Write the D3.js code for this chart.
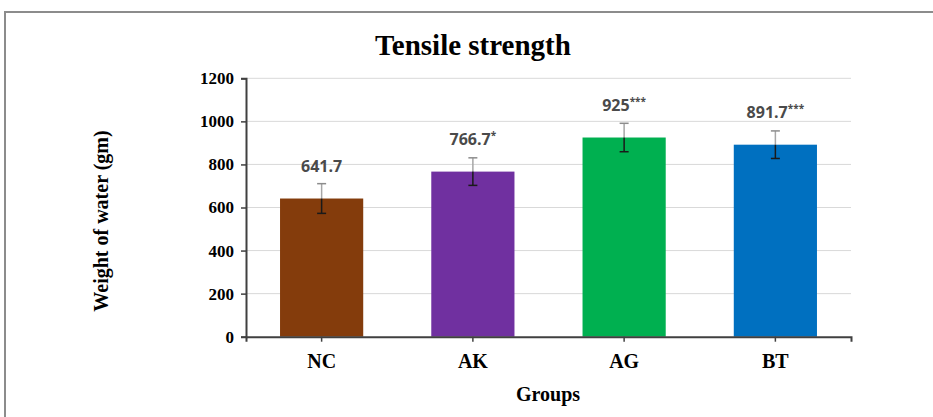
<!DOCTYPE html>
<html>
<head>
<meta charset="utf-8">
<script src="https://cdn.jsdelivr.net/npm/d3@7"></script>
<style>
  body { margin: 0; background: #fff; }
  svg { display: block; }
</style>
</head>
<body>
<div id="chart"></div>
<script>
// data
const groups = ["NC", "AK", "AG", "BT"]
const values = [641.7, 766.7, 925, 891.7]
const errors = [69, 64, 66, 64]
const marks = ["", "*", "***", "***"]
const colors = ["#843C0C", "#7030A0", "#00B050", "#0070C0"]
const yTicks = [0, 200, 400, 600, 800, 1000, 1200]

const width = 933, height = 417
const margin = {top: 78, right: 82, bottom: 80, left: 246}

const svg = d3.select("#chart").append("svg")
  .attr("width", width)
  .attr("height", height)

// chart area frame (only top and left show)
svg.append("rect")
  .attr("x", 5).attr("y", 12)
  .attr("width", 1000).attr("height", 1000)
  .attr("fill", "none")
  .attr("stroke", "#8c8c8c")
  .attr("stroke-width", 2)

const x = d3.scaleBand()
  .domain(groups)
  .range([margin.left, width - margin.right])
  .paddingInner(0.45)
  .paddingOuter(0.225)

const y = d3.scaleLinear()
  .domain([0, 1200])
  .range([336.7, 78.3])

// gridlines
svg.append("g")
  .selectAll("line")
  .data(yTicks.filter(d => d > 0))
  .join("line")
  .attr("x1", margin.left).attr("x2", width - margin.right)
  .attr("y1", d => y(d)).attr("y2", d => y(d))
  .attr("stroke", "#d9d9d9")
  .attr("stroke-width", 1)

// bars
svg.append("g")
  .selectAll("rect")
  .data(groups)
  .join("rect")
  .attr("x", d => x(d))
  .attr("width", x.bandwidth())
  .attr("y", (d, i) => y(values[i]))
  .attr("height", (d, i) => y(0) - y(values[i]))
  .attr("fill", (d, i) => colors[i])

// error bars: light part above the bar, dark part on the bar
const eb = svg.append("g")
groups.forEach((g, i) => {
  const cx = x(g) + x.bandwidth() / 2
  const top = y(values[i] + errors[i]), mid = y(values[i]), bot = y(values[i] - errors[i])
  eb.append("line").attr("x1", cx).attr("x2", cx).attr("y1", top).attr("y2", mid)
    .attr("stroke", "#a6a6a6").attr("stroke-width", 1.5)
  eb.append("line").attr("x1", cx - 4.5).attr("x2", cx + 4.5).attr("y1", top).attr("y2", top)
    .attr("stroke", "#8c8c8c").attr("stroke-width", 1.5)
  eb.append("line").attr("x1", cx).attr("x2", cx).attr("y1", mid).attr("y2", bot)
    .attr("stroke", "#1a1a1a").attr("stroke-width", 1.5)
  eb.append("line").attr("x1", cx - 4.5).attr("x2", cx + 4.5).attr("y1", bot).attr("y2", bot)
    .attr("stroke", "#1a1a1a").attr("stroke-width", 1.5)
})

// value labels
const lab = svg.append("g")
  .selectAll("text")
  .data(groups)
  .join("text")
  .attr("x", d => x(d) + x.bandwidth() / 2)
  .attr("y", (d, i) => y(values[i]) - 27)
  .attr("text-anchor", "middle")
  .style("font-family", "'Open Sans', 'Noto Sans', sans-serif")
  .style("font-weight", "bold")
  .style("font-size", "16px")
  .style("fill", "#4a4a4a")
lab.append("tspan").text((d, i) => values[i])
lab.append("tspan")
  .attr("dy", -6)
  .style("font-size", "10px")
  .text((d, i) => marks[i])

// y axis
const yAxis = svg.append("g")
  .attr("transform", "translate(" + margin.left + ",0)")
  .call(d3.axisLeft(y).tickValues(yTicks).tickFormat(d3.format("d")).tickSize(5).tickPadding(7))
yAxis.select(".domain").attr("stroke", "#404040").attr("stroke-width", 2)
yAxis.selectAll(".tick line").attr("stroke", "#404040").attr("stroke-width", 1.5)
yAxis.selectAll("text")
  .style("font-family", "'Liberation Serif', 'Times New Roman', serif")
  .style("font-weight", "bold")
  .style("font-size", "17px")
  .style("fill", "#000")

// x axis
const xAxis = svg.append("g")
  .attr("transform", "translate(0," + y(0) + ")")
  .call(d3.axisBottom(x).tickSize(5).tickSizeOuter(5).tickPadding(12))
xAxis.select(".domain").attr("stroke", "#404040").attr("stroke-width", 2)
xAxis.selectAll(".tick line").attr("stroke", "#404040").attr("stroke-width", 1.5)
xAxis.selectAll("text")
  .style("font-family", "'Liberation Serif', 'Times New Roman', serif")
  .style("font-weight", "bold")
  .style("font-size", "20px")
  .style("fill", "#000")

// title
svg.append("text")
  .attr("x", 473).attr("y", 55)
  .attr("text-anchor", "middle")
  .style("font-family", "'Liberation Serif', 'Times New Roman', serif")
  .style("font-weight", "bold")
  .style("font-size", "29px")
  .text("Tensile strength")

// axis titles
svg.append("text")
  .attr("x", 548).attr("y", 401)
  .attr("text-anchor", "middle")
  .style("font-family", "'Liberation Serif', 'Times New Roman', serif")
  .style("font-weight", "bold")
  .style("font-size", "20px")
  .text("Groups")

svg.append("text")
  .attr("transform", "translate(108,221) rotate(-90)")
  .attr("text-anchor", "middle")
  .style("font-family", "'Liberation Serif', 'Times New Roman', serif")
  .style("font-weight", "bold")
  .style("font-size", "20px")
  .text("Weight of water (gm)")
</script>
</body>
</html>
